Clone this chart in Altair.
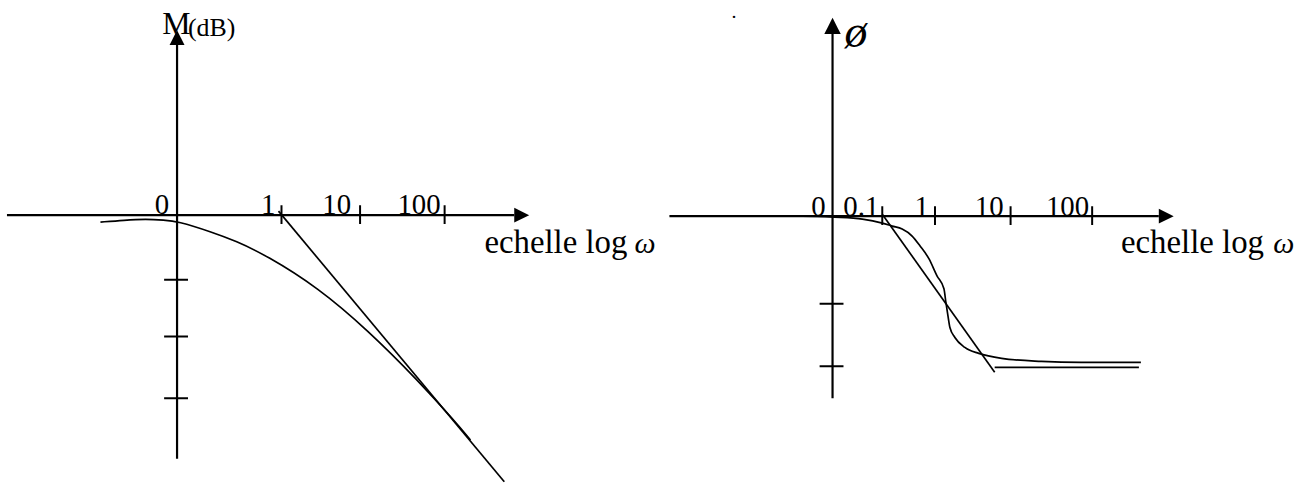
import altair as alt
import pandas as pd

SERIF = "Liberation Serif"
BLACK = "#000000"

# ---------------- magnitude diagram (left) ----------------
# sketch units: origin where the two axes cross, 1 unit = one grid step
mag_x_domain = [-17.8, 47.5]
mag_y_domain = [-26.9, 21.4]
mag_omega_axis = [-17.1, 33.9]          # horizontal axis extent, arrow at the right end
mag_gain_axis = [-24.5, 17.1]           # vertical axis extent, arrow at the top
mag_omega_ticks = [10.5, 18.4, 26.9]
mag_gain_ticks = [-6.5, -12.2, -18.4]
mag_tick_labels = ["0", "1", "10", "100"]
mag_tick_label_x = [-0.8, 9.9, 17.5, 26.5]
mag_curve_x = [-7.7, -5.3, -3.1, -1.3, 0.0, 3.5, 5.9, 8.9, 14.2, 19.2, 24.2, 28.0, 29.5]
mag_curve_y = [-0.7, -0.5, -0.4, -0.5, -0.6, -1.7, -2.6, -4.0, -7.3, -11.6, -16.6, -20.8, -22.6]
mag_asym_x = [10.2, 32.9]
mag_asym_y = [0.4, -26.8]

# ---------------- phase diagram (right) ----------------
ph_x_domain = [-17.7, 47.7]
ph_y_domain = [-26.8, 21.5]
ph_omega_axis = [-16.4, 32.8]
ph_phase_axis = [-18.3, 18.3]
ph_omega_ticks = [5.0, 10.3, 17.9, 26.1]
ph_phase_ticks = [-8.8, -15.1]
ph_tick_labels = ["0", "0.1", "1", "10", "100"]
ph_tick_label_x = [-0.7, 4.7, 9.7, 17.2, 25.8]
ph_curve_x = [-6.3, -3.0, 0.2, 3.0, 5.0, 6.0, 7.0, 8.0, 8.8, 9.7, 10.5, 11.2,
              11.4, 11.6, 11.8, 12.3, 13.3, 14.7, 17.0, 21.0, 25.0, 31.0]
ph_curve_y = [0.0, 0.0, -0.1, -0.3, -0.7, -1.0, -1.3, -2.0, -3.0, -4.3, -6.0, -7.3,
              -8.7, -10.0, -11.2, -12.2, -13.2, -13.8, -14.3, -14.6, -14.7, -14.7]
# asymptotes: sloped segment, then the high-frequency level
ph_asym_x = [5.0, 16.3]
ph_asym_y = [0.2, -15.2]
ph_asym_x2 = [16.3, 30.8]
ph_asym_y2 = [-15.7, -15.2]

ARROW_RIGHT = "M-1,-1L1,0L-1,1Z"
ARROW_UP = "M-1,1L0,-1L1,1Z"


def enc(xdom, ydom):
    X = alt.X("x:Q", scale=alt.Scale(domain=xdom, nice=False, zero=False), axis=None)
    Y = alt.Y("y:Q", scale=alt.Scale(domain=ydom, nice=False, zero=False), axis=None)
    return X, Y


def segments(X, Y, x, y, x2, y2, width):
    df = pd.DataFrame({"x": x, "y": y, "x2": x2, "y2": y2})
    return alt.Chart(df).mark_rule(color=BLACK, strokeWidth=width, clip=True).encode(
        x=X, y=Y, x2="x2:Q", y2="y2:Q")


def curve(X, Y, xs, ys, interp, width=1.7):
    df = pd.DataFrame({"x": xs, "y": ys})
    return alt.Chart(df).mark_line(color=BLACK, strokeWidth=width, interpolate=interp,
                                   clip=True).encode(x=X, y=Y)


def arrow(X, Y, x, y, shape, size):
    df = pd.DataFrame({"x": [x], "y": [y]})
    return alt.Chart(df).mark_point(shape=shape, size=size, filled=True, color=BLACK,
                                    opacity=1, strokeWidth=0).encode(x=X, y=Y)


def label(X, Y, texts, xs, ys, size, align="left", style="normal"):
    df = pd.DataFrame({"x": xs, "y": ys, "t": texts})
    return alt.Chart(df).mark_text(font=SERIF, fontSize=size, fontStyle=style, align=align,
                                   baseline="alphabetic", color=BLACK).encode(
        x=X, y=Y, text="t:N")


def axes(X, Y, h_ext, v_ext, hticks, vticks, h_arrow, v_arrow):
    n, m = len(hticks), len(vticks)
    return [
        segments(X, Y, [h_ext[0]], [0.0], [h_ext[1]], [0.0], 2.2),
        segments(X, Y, [0.0], [v_ext[0]], [0.0], [v_ext[1]], 2.2),
        segments(X, Y, hticks, [-0.9] * n, hticks, [1.0] * n, 2.0),
        segments(X, Y, [-1.3] * m, vticks, [1.1] * m, vticks, 2.0),
        arrow(X, Y, h_ext[1] + h_arrow / 20, 0.0, ARROW_RIGHT, h_arrow ** 2),
        arrow(X, Y, 0.0, v_ext[1] + v_arrow / 20, ARROW_UP, v_arrow ** 2),
    ]


# ----- left panel -----
Xm, Ym = enc(mag_x_domain, mag_y_domain)
mag_layers = axes(Xm, Ym, mag_omega_axis, mag_gain_axis, mag_omega_ticks, mag_gain_ticks, 15, 15)
mag_layers += [
    curve(Xm, Ym, mag_curve_x, mag_curve_y, "basis"),
    segments(Xm, Ym, [mag_asym_x[0]], [mag_asym_y[0]], [mag_asym_x[1]], [mag_asym_y[1]], 1.7),
    label(Xm, Ym, mag_tick_labels, mag_tick_label_x, [0.1] * 4, 29, align="right"),
    label(Xm, Ym, ["M"], [-1.5], [18.2], 32),
    label(Xm, Ym, ["(dB)"], [1.1], [18.0], 26),
    label(Xm, Ym, ["echelle log"], [30.9], [-3.8], 33),
    label(Xm, Ym, ["ω"], [46.0], [-3.8], 30, style="italic"),
]
mag_chart = alt.layer(*mag_layers).properties(width=653, height=483)

# ----- right panel -----
Xp, Yp = enc(ph_x_domain, ph_y_domain)
ph_layers = axes(Xp, Yp, ph_omega_axis, ph_phase_axis, ph_omega_ticks, ph_phase_ticks, 15, 16.5)
ph_layers += [
    curve(Xp, Yp, ph_curve_x, ph_curve_y, "monotone"),
    segments(Xp, Yp, ph_asym_x, ph_asym_y, ph_asym_x2, ph_asym_y2, 1.7),
    label(Xp, Yp, ph_tick_labels, ph_tick_label_x, [0.0] * 5, 29, align="right"),
    label(Xp, Yp, ["ø"], [1.2], [17.0], 46, style="italic"),
    label(Xp, Yp, ["."], [-9.9], [19.9], 20, align="center"),
    label(Xp, Yp, ["echelle log"], [29.0], [-3.7], 33),
    label(Xp, Yp, ["ω"], [44.3], [-3.7], 30, style="italic"),
]
ph_chart = alt.layer(*ph_layers).properties(width=654, height=483)

chart = (
    alt.hconcat(mag_chart, ph_chart, spacing=0)
    .properties(padding=0, background="white")
    .configure_view(stroke=None)
)

chart.save("out.html", embed_options={"renderer": "svg", "actions": False})
